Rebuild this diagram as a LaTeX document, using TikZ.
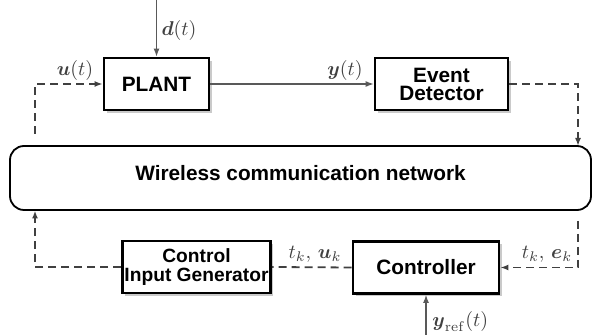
\documentclass[tikz,border=0pt]{standalone}
\usepackage{amsmath}
\usepackage[no-math]{fontspec}
\setmainfont{Liberation Sans}
\usetikzlibrary{arrows.meta, positioning, shadows}

\definecolor{lblgray}{gray}{0.25}
\definecolor{linegray}{gray}{0.35}

\begin{document}
\begin{tikzpicture}[x=0.5pt, y=-0.5pt,
    block/.style={draw, line width=1.4pt, fill=white, align=center, inner sep=1pt,
      minimum height=26pt, font=\fontsize{10.4}{9}\selectfont\bfseries,
      drop shadow={shadow xshift=1.3pt, shadow yshift=-1.3pt, fill=black!35, opacity=0.6}},
    netbox/.style={draw, line width=0.9pt, rounded corners=7pt, minimum width=290.5pt,
      minimum height=32pt, text depth=5pt, font=\fontsize{10.4}{12}\selectfont\bfseries},
    sigline/.style={draw=linegray, line width=0.6pt, -{Latex[length=4pt, width=3pt]}},
    dashline/.style={draw=black!75, line width=0.9pt, dash pattern=on 4pt off 2.5pt},
    lbl/.style={text=lblgray, inner sep=0pt}]
  \useasboundingbox (0,0) rectangle (593,335);

  % Blocks on top
  \node[block, minimum width=52.5pt] (plant) at (156.5,84) {PLANT};
  \node[block, minimum width=66.5pt] (ed) at (441.5,84) {Event\\Detector};

  % Network
  \node[netbox] (net) at (300.5,178) {Wireless communication network};

  % Blocks below
  \node[block, minimum width=74pt, font=\fontsize{9.6}{9.5}\selectfont\bfseries] (cig) at (196.5,267) {Control\\Input Generator};
  \node[block, minimum width=73pt] (ctrl) at (426,267.5) {Controller};

  % Free ends
  \coordinate (din) at (156.5,0);
  \coordinate (uin) at (35,134);
  \coordinate (eout) at (578,146);
  \coordinate (ein) at (578,221);
  \coordinate (uup) at (35,210.5);
  \coordinate (yref) at (426,335);

  % Signals
  \draw[sigline] (din) -- (plant.north);
  \draw[sigline] (plant.east) -- (ed.west);
  \draw[sigline] (yref) -- (ctrl.south);
  \draw[dashline, -{Latex[length=4pt, width=3pt]}] (uin) |- (plant.west);
  \draw[dashline, -{Latex[length=4pt, width=3pt]}] (ed.east) -| (eout);
  \draw[dashline, -{Latex[length=4pt, width=3pt]}] (ein) |- (ctrl.east);
  \draw[dashline] (ctrl.west) -- (cig.east);
  \draw[dashline, -{Latex[length=4pt, width=3pt]}] (cig.west) -| (uup);

  % Labels
  \node[lbl] (dlbl) at (179,31) {$\boldsymbol{d}(t)$};
  \node[lbl] (ulbl) at (75,71) {$\boldsymbol{u}(t)$};
  \node[lbl] (ylbl) at (345,71) {$\boldsymbol{y}(t)$};
  \node[lbl] (uklbl) at (315,254) {$t_k,\,\boldsymbol{u}_k$};
  \node[lbl] (eklbl) at (547,254) {$t_k,\,\boldsymbol{e}_k$};
  \node[lbl, anchor=west] (yreflbl) at (432,322) {$\boldsymbol{y}_{\mathrm{ref}}(t)$};
\end{tikzpicture}
\end{document}
